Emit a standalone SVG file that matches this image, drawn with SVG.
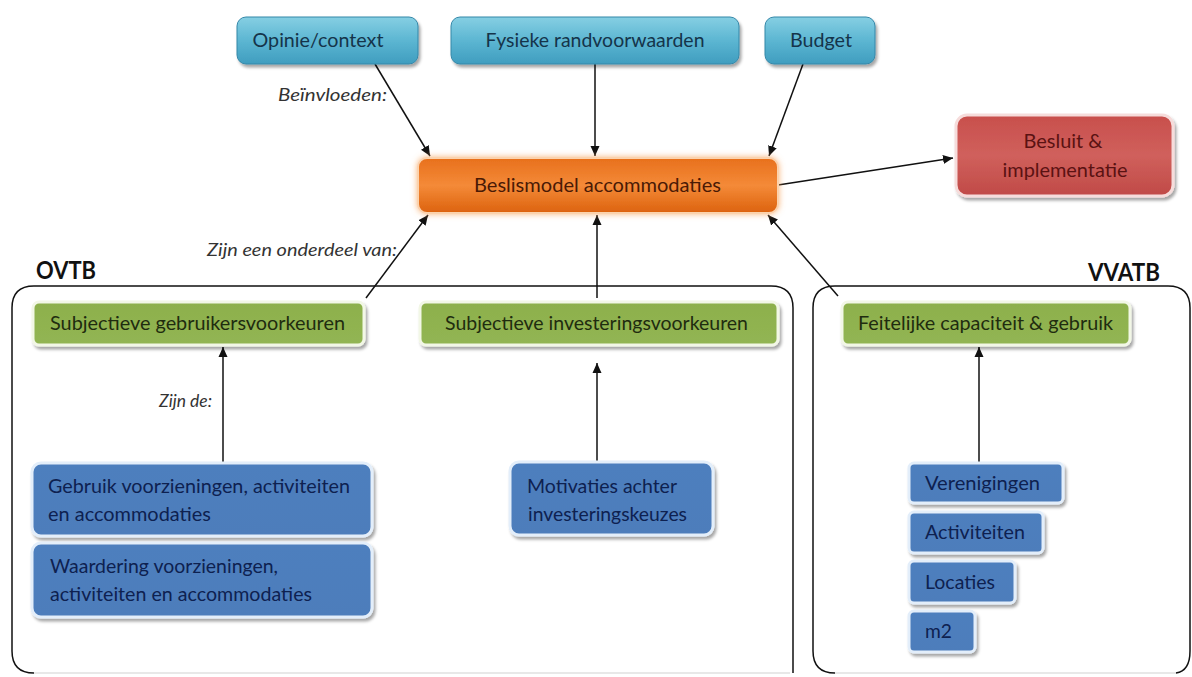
<svg xmlns="http://www.w3.org/2000/svg" width="1192" height="677" viewBox="0 0 1192 677">
<defs>
<linearGradient id="gTop" x1="0" y1="0" x2="0" y2="1"><stop offset="0" stop-color="#86cfe3"/><stop offset="0.5" stop-color="#5cb6d2"/><stop offset="1" stop-color="#3f9dbf"/></linearGradient>
<linearGradient id="gOr" x1="0" y1="0" x2="0" y2="1"><stop offset="0" stop-color="#e8701c"/><stop offset="0.5" stop-color="#f48a38"/><stop offset="1" stop-color="#dc620e"/></linearGradient>
<linearGradient id="gRed" x1="0" y1="0" x2="0" y2="1"><stop offset="0" stop-color="#c84f4c"/><stop offset="0.5" stop-color="#d0605c"/><stop offset="1" stop-color="#c04a47"/></linearGradient>
<linearGradient id="gGr" x1="0" y1="0" x2="0" y2="1"><stop offset="0" stop-color="#8db04c"/><stop offset="1" stop-color="#92b553"/></linearGradient>
<linearGradient id="gBl" x1="0" y1="0" x2="0" y2="1"><stop offset="0" stop-color="#4e7fbe"/><stop offset="1" stop-color="#4d7dbb"/></linearGradient>
<filter id="sh" x="-10%" y="-20%" width="125%" height="150%"><feDropShadow dx="2" dy="3" stdDeviation="1.8" flood-color="#000" flood-opacity="0.35"/></filter>
<filter id="glow" x="-10%" y="-30%" width="120%" height="160%"><feDropShadow dx="0" dy="0" stdDeviation="3" flood-color="#f7a35a" flood-opacity="0.8"/></filter>
<marker id="ah" viewBox="0 0 10 10" refX="10" refY="5" markerWidth="10" markerHeight="10" markerUnits="userSpaceOnUse" orient="auto"><path d="M0,0.5 L10,5 L0,9.5 z" fill="#111"/></marker>
<style>
text{font-family:Lato,"Liberation Sans",sans-serif;}
.lbl{font-size:20px;}
.top rect{fill:url(#gTop);stroke:#3587a8;stroke-width:1;filter:url(#sh);}
.top text{fill:#15344a;}
.grn rect{fill:url(#gGr);stroke:#f2f7e6;stroke-width:3;filter:url(#sh);}
.grn text{fill:#1f2c0f;}
.blu rect{fill:url(#gBl);stroke:#e3eefa;stroke-width:3;filter:url(#sh);}
.blu text{fill:#0e2150;}
.it{font-size:18px;font-style:italic;fill:#333;}
.hd{font-size:25px;font-weight:bold;fill:#111;}
.cn line{stroke:#111;stroke-width:1.5;fill:none;}
.box{fill:none;stroke:#111;stroke-width:1.5;}
.boxb{fill:none;stroke:#d2d2d2;stroke-width:1.2;}
</style>
</defs>
<rect width="1192" height="677" fill="#fff"/>

<g id="containers">
<path class="box" d="M34,673 Q12,673 12,651 L12,308 Q12,286 34,286 L771,286 Q793,286 793,308 L793,673"/>
<line class="boxb" x1="34" y1="673" x2="790" y2="673"/>
<path class="box" d="M835,673 Q813,673 813,651 L813,308 Q813,286 835,286 L1168,286 Q1190,286 1190,308 L1190,651 Q1190,671 1176,673"/>
<line class="boxb" x1="835" y1="673" x2="1176" y2="673"/>
<text id="ovtb" class="hd" x="36" y="279" textLength="60" lengthAdjust="spacingAndGlyphs">OVTB</text>
<text id="vvatb" class="hd" x="1088" y="281" textLength="72" lengthAdjust="spacingAndGlyphs">VVATB</text>
</g>

<g id="connectors" class="cn">
<line x1="375" y1="64" x2="430" y2="156" marker-end="url(#ah)"/>
<line x1="595" y1="64" x2="595" y2="156" marker-end="url(#ah)"/>
<line x1="803" y1="64" x2="769" y2="156" marker-end="url(#ah)"/>
<line x1="778" y1="185" x2="953" y2="158" marker-end="url(#ah)"/>
<line x1="366" y1="298" x2="428" y2="215" marker-end="url(#ah)"/>
<line x1="597" y1="298" x2="597" y2="215" marker-end="url(#ah)"/>
<line x1="838" y1="296" x2="768" y2="215" marker-end="url(#ah)"/>
<line x1="223" y1="462" x2="223" y2="347" marker-end="url(#ah)"/>
<line x1="597" y1="472" x2="597" y2="363" marker-end="url(#ah)"/>
<line x1="979" y1="463" x2="979" y2="347" marker-end="url(#ah)"/>
</g>

<g id="labels">
<text class="it" x="278" y="101" textLength="109" lengthAdjust="spacingAndGlyphs">Beïnvloeden:</text>
<text class="it" x="207" y="256" textLength="190" lengthAdjust="spacingAndGlyphs">Zijn een onderdeel van:</text>
<text class="it" x="159" y="407" textLength="53" lengthAdjust="spacingAndGlyphs">Zijn de:</text>
</g>

<g id="opinie" class="top"><rect x="237" y="17" width="181" height="47" rx="9"/><text class="lbl" x="318" y="47" text-anchor="middle" textLength="131" lengthAdjust="spacingAndGlyphs">Opinie/context</text></g>
<g id="fysieke" class="top"><rect x="451" y="17" width="288" height="47" rx="9"/><text class="lbl" x="595" y="47" text-anchor="middle" textLength="219" lengthAdjust="spacingAndGlyphs">Fysieke randvoorwaarden</text></g>
<g id="budget" class="top"><rect x="765" y="17" width="110" height="47" rx="9"/><text class="lbl" x="821" y="47" text-anchor="middle" textLength="62" lengthAdjust="spacingAndGlyphs">Budget</text></g>

<g id="beslismodel"><rect x="418" y="158" width="360" height="55" rx="9" fill="url(#gOr)" stroke="#fbd2ad" stroke-width="2" filter="url(#glow)"/><text class="lbl" x="597.5" y="192" text-anchor="middle" fill="#4a1a05" textLength="247" lengthAdjust="spacingAndGlyphs">Beslismodel accommodaties</text></g>

<g id="besluit"><rect x="956" y="115" width="217" height="81" rx="11" fill="url(#gRed)" stroke="#f6dcdb" stroke-width="3" filter="url(#sh)"/><text class="lbl" x="1063" y="148" text-anchor="middle" fill="#5a1212" textLength="79" lengthAdjust="spacingAndGlyphs">Besluit &amp;</text><text class="lbl" x="1065" y="177" text-anchor="middle" fill="#5a1212" textLength="125" lengthAdjust="spacingAndGlyphs">implementatie</text></g>

<g id="subj-gebruik" class="grn"><rect x="33" y="302" width="331" height="43" rx="6"/><text class="lbl" x="50" y="330" textLength="295" lengthAdjust="spacingAndGlyphs">Subjectieve  gebruikersvoorkeuren</text></g>
<g id="subj-invest" class="grn"><rect x="420" y="302" width="358" height="43" rx="6"/><text class="lbl" x="445" y="330" textLength="303" lengthAdjust="spacingAndGlyphs">Subjectieve investeringsvoorkeuren</text></g>
<g id="feitelijk" class="grn"><rect x="842" y="302" width="288" height="43" rx="6"/><text class="lbl" x="858" y="330" textLength="255" lengthAdjust="spacingAndGlyphs">Feitelijke capaciteit &amp; gebruik</text></g>

<g id="gebruik" class="blu"><rect x="32" y="463" width="340" height="73" rx="9"/><text class="lbl" x="48" y="493" textLength="302" lengthAdjust="spacingAndGlyphs">Gebruik voorzieningen,  activiteiten</text><text class="lbl" x="48" y="521" textLength="163" lengthAdjust="spacingAndGlyphs">en accommodaties</text></g>
<g id="waardering" class="blu"><rect x="32" y="543" width="340" height="74" rx="9"/><text class="lbl" x="50" y="573" textLength="228" lengthAdjust="spacingAndGlyphs">Waardering voorzieningen,</text><text class="lbl" x="50" y="601" textLength="262" lengthAdjust="spacingAndGlyphs">activiteiten en accommodaties</text></g>
<g id="motivaties" class="blu"><rect x="510" y="462" width="203" height="73" rx="9"/><text class="lbl" x="527" y="493" textLength="150" lengthAdjust="spacingAndGlyphs">Motivaties achter</text><text class="lbl" x="528" y="521" textLength="159" lengthAdjust="spacingAndGlyphs">investeringskeuzes</text></g>

<g id="verenigingen" class="blu"><rect x="909" y="463" width="154" height="40" rx="5"/><text class="lbl" x="925" y="490" textLength="115" lengthAdjust="spacingAndGlyphs">Verenigingen</text></g>
<g id="activiteiten" class="blu"><rect x="909" y="512" width="134" height="41" rx="5"/><text class="lbl" x="925" y="539" textLength="100" lengthAdjust="spacingAndGlyphs">Activiteiten</text></g>
<g id="locaties" class="blu"><rect x="909" y="561" width="106" height="42" rx="5"/><text class="lbl" x="925" y="589" textLength="70" lengthAdjust="spacingAndGlyphs">Locaties</text></g>
<g id="m2" class="blu"><rect x="909" y="611" width="66" height="41" rx="5"/><text class="lbl" x="925" y="638" textLength="27" lengthAdjust="spacingAndGlyphs">m2</text></g>
</svg>
